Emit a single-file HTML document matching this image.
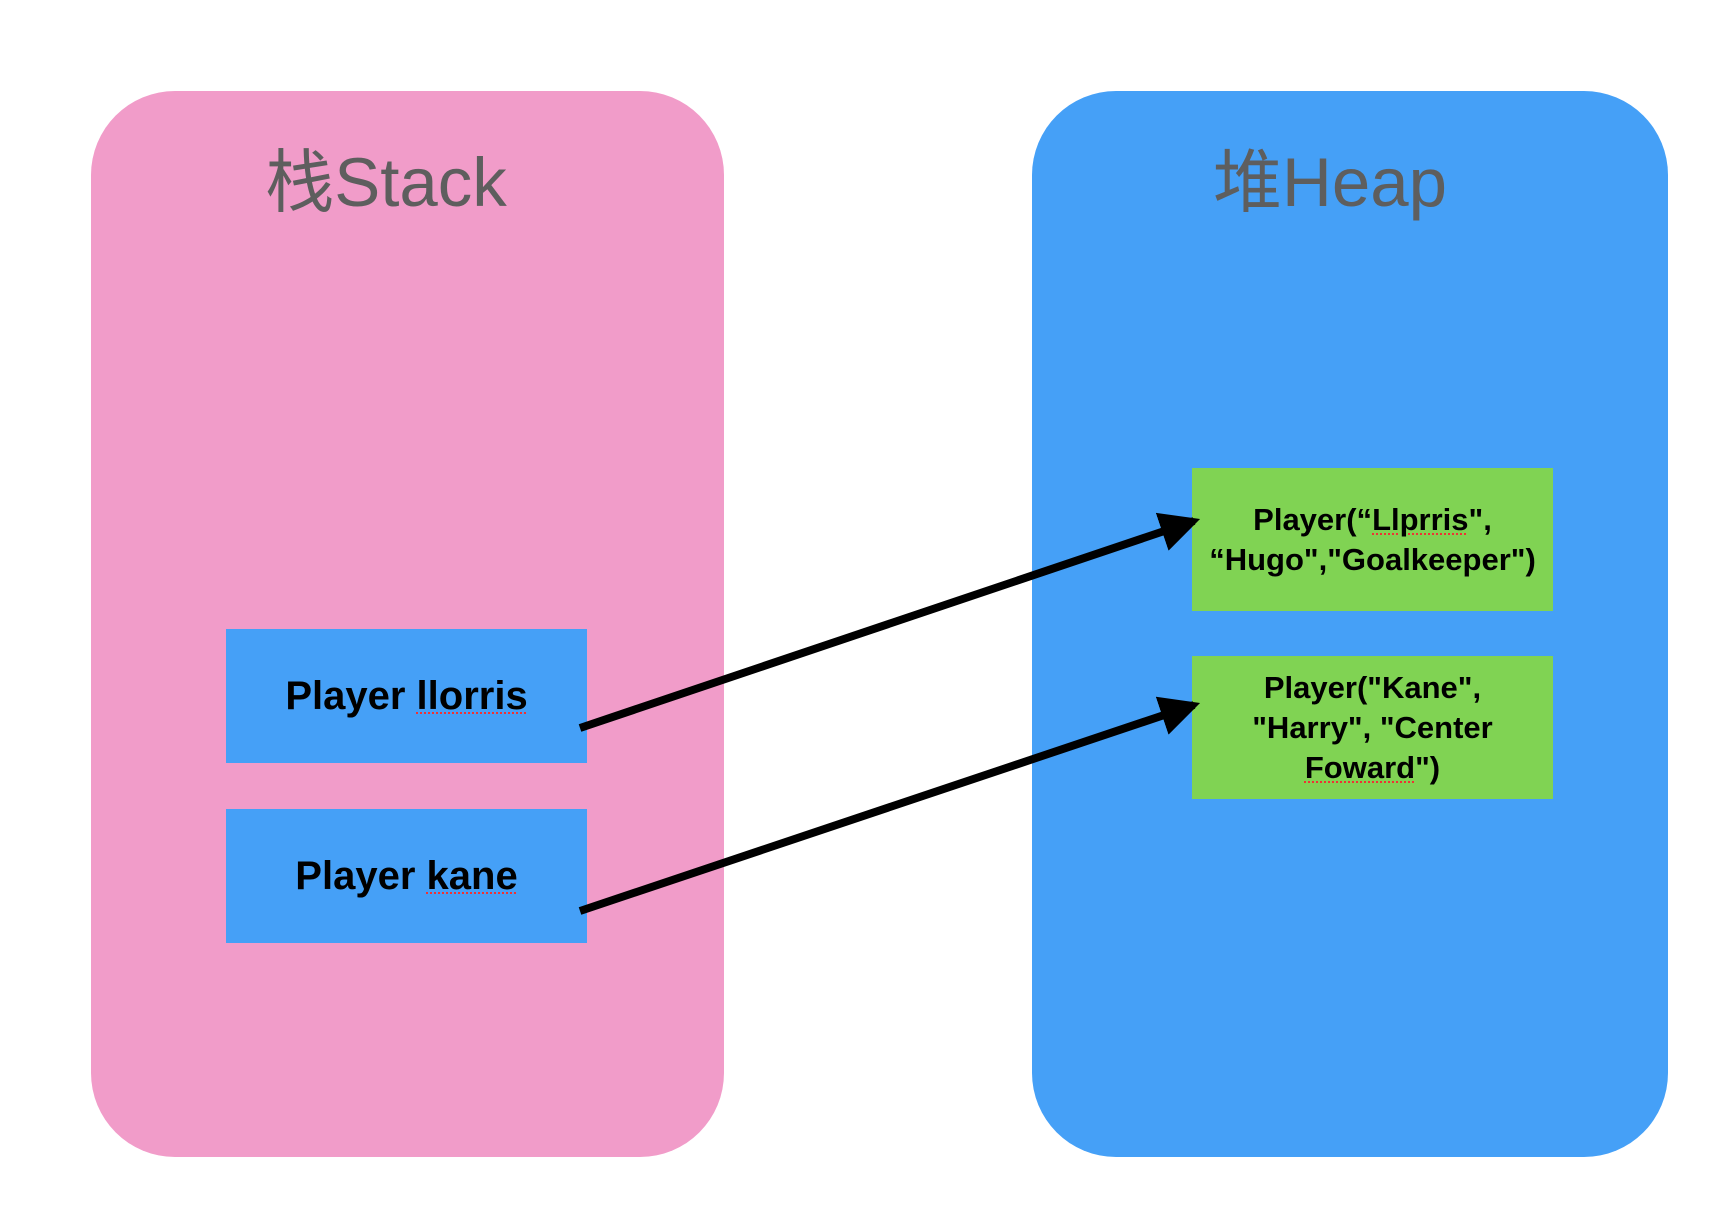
<!DOCTYPE html>
<html><head><meta charset="utf-8"><style>
html,body{margin:0;padding:0;background:#fff;}
body{width:1732px;height:1232px;position:relative;overflow:hidden;font-family:"Liberation Sans","Noto Sans CJK SC",sans-serif;}
.col{position:absolute;top:91px;height:1066px;border-radius:84px;}
.title{position:absolute;top:126px;font-size:69px;color:#5e5e5e;white-space:nowrap;transform:translateX(-50%);}
.box{position:absolute;display:flex;align-items:center;justify-content:center;text-align:center;font-weight:bold;color:#000;}
.sb{background:#45a0f7;left:226px;width:361px;height:134px;font-size:40px;}
.gb{background:#80d353;left:1192px;width:361px;height:143px;font-size:31px;line-height:40px;}
u{text-decoration:underline dotted #e33;text-underline-offset:4px;text-decoration-thickness:2px;}
</style></head><body>
<div class="col" style="left:91px;width:633px;background:#f19cc9;"></div>
<div class="col" style="left:1032px;width:636px;background:#45a0f7;"></div>
<div class="title" style="left:386px;">栈Stack</div>
<div class="title" style="left:1330px;">堆Heap</div>
<div class="box sb" style="top:629px;">Player&nbsp;<u>llorris</u></div>
<div class="box sb" style="top:809px;">Player&nbsp;<u>kane</u></div>
<div class="box gb" style="top:468px;"><div>Player(“<u>Llprris</u>",<br>“Hugo","Goalkeeper")</div></div>
<div class="box gb" style="top:656px;"><div>Player("Kane",<br>"Harry", "Center<br><u>Foward</u>")</div></div>
<svg width="1732" height="1232" style="position:absolute;left:0;top:0">
<defs><marker id="a" markerWidth="5" markerHeight="5" refX="4.2" refY="2.5" orient="auto" markerUnits="strokeWidth"><path d="M0,0 L5,2.5 L0,5 z" fill="#000"/></marker></defs>
<line x1="580" y1="728" x2="1194" y2="521" stroke="#000" stroke-width="8" marker-end="url(#a)"/>
<line x1="580" y1="911" x2="1194" y2="705" stroke="#000" stroke-width="8" marker-end="url(#a)"/>
</svg>
</body></html>
